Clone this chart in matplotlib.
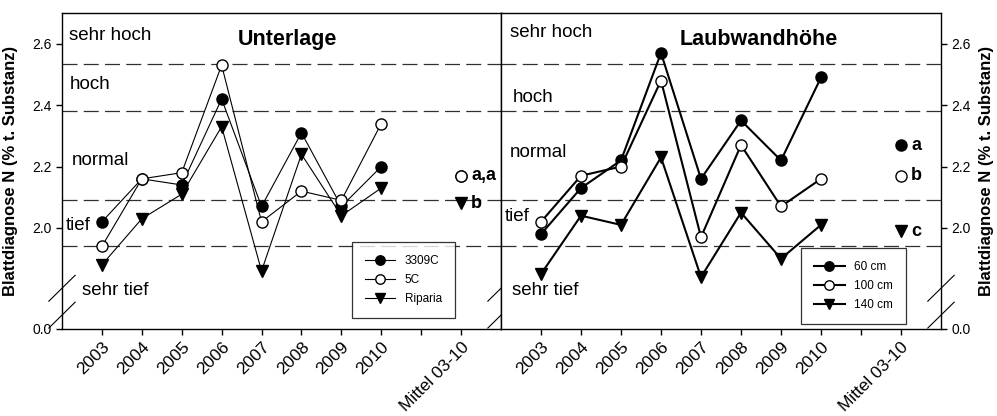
#!/usr/bin/env python3
"""Blattdiagnose N: Unterlage vs. Laubwandhoehe, 2003-2010."""
import matplotlib
matplotlib.use("Agg")
import matplotlib.pyplot as plt
import matplotlib.transforms as mtransforms
from matplotlib.lines import Line2D

plt.rcParams["font.family"] = ["Liberation Sans", "DejaVu Sans"]

YEARS = ["2003", "2004", "2005", "2006", "2007", "2008", "2009", "2010"]
MEAN_LABEL = "Mittel 03-10"
Y_LABEL = "Blattdiagnose N (% t. Substanz)"

# classification thresholds (dashed lines) and band names
THRESHOLDS = [1.94, 2.09, 2.38, 2.535]
BANDS = ["sehr tief", "tief", "normal", "hoch", "sehr hoch"]

# broken y axis: the bottom of the plot stands for 0.0
Y_BREAK = 1.671
Y_TOP = 2.70
Y_TICKS = [Y_BREAK, 2.0, 2.2, 2.4, 2.6]
Y_TICK_LABELS = ["0.0", "2.0", "2.2", "2.4", "2.6"]

# left panel: Unterlage
ROOT_TITLE = "Unterlage"
ROOT_NAMES = ["3309C", "5C", "Riparia"]
root_3309c = [2.02, 2.16, 2.14, 2.42, 2.07, 2.31, 2.07, 2.20]
root_5c = [1.94, 2.16, 2.18, 2.53, 2.02, 2.12, 2.09, 2.34]
root_riparia = [1.88, 2.03, 2.11, 2.33, 1.86, 2.24, 2.04, 2.13]
root_mean = [2.17, 2.17, 2.08]
root_letters = ["", "a,a", "b"]

# right panel: Laubwandhoehe
HEIGHT_TITLE = "Laubwandhöhe"
HEIGHT_NAMES = ["60 cm", "100 cm", "140 cm"]
height_60 = [1.98, 2.13, 2.22, 2.57, 2.16, 2.35, 2.22, 2.49]
height_100 = [2.02, 2.17, 2.20, 2.48, 1.97, 2.27, 2.07, 2.16]
height_140 = [1.85, 2.04, 2.01, 2.23, 1.84, 2.05, 1.90, 2.01]
height_mean = [2.27, 2.17, 1.99]
height_letters = ["a", "b", "c"]

MARKERS = [
    dict(marker="o", mfc="black", mec="black"),
    dict(marker="o", mfc="white", mec="black"),
    dict(marker="v", mfc="black", mec="black"),
]


def break_marks(ax, xs, color="black"):
    """Little diagonal slashes showing the axis break."""
    for x in xs:
        for y0 in (0.003, 0.088):
            ax.add_line(Line2D([x - 0.03, x + 0.03], [y0, y0 + 0.082],
                               transform=ax.transAxes, color=color,
                               lw=0.8, clip_on=False))


def panel(ax, title, names, series, means, letters, lw, band_pos, title_x):
    xpos = list(range(len(YEARS)))
    mean_x = len(YEARS) + 1

    for thr in THRESHOLDS:
        ax.axhline(thr, color="#303030", lw=0.9, dashes=(12, 5), zorder=1)

    for name, vals, mean, style in zip(names, series, means, MARKERS):
        ms = 8.5 if style["marker"] == "v" else 8
        ax.plot(xpos, vals, color="black", lw=lw, ms=ms, label=name,
                zorder=3, **style)
        ax.plot([mean_x], [mean], ls="none", ms=ms, zorder=3, **style)

    for mean, letter in zip(means, letters):
        if letter:
            ax.text(mean_x + 0.25, mean, letter, fontsize=13,
                    fontweight="bold", ha="left", va="center")

    for band, (bx, by) in zip(BANDS, band_pos):
        ax.text(bx, by, band, fontsize=13.5, ha="left", va="center")

    ax.text(title_x, 2.615, title, fontsize=15.5, fontweight="bold",
            ha="center", va="center")

    ax.set_xlim(-1, 10)
    ax.set_ylim(Y_BREAK, Y_TOP)
    ax.set_xticks(list(range(mean_x + 1)))
    ax.set_xticklabels(YEARS + ["", MEAN_LABEL], rotation=45, ha="right",
                       rotation_mode="anchor", fontsize=12.5)
    offset = mtransforms.ScaledTranslation(0.16, -0.03,
                                           ax.figure.dpi_scale_trans)
    for lab in ax.get_xticklabels():
        lab.set_transform(lab.get_transform() + offset)
    ax.set_yticks(Y_TICKS)
    ax.set_yticklabels(Y_TICK_LABELS)
    ax.tick_params(direction="out", length=4, width=1)
    ax.tick_params(axis="y", labelsize=10)
    for sp in ax.spines.values():
        sp.set_linewidth(1)

    leg = ax.legend(loc="lower left", fontsize=8.5, frameon=True,
                    fancybox=False, edgecolor="black", handlelength=2.6,
                    markerscale=0.85, borderpad=1.1, labelspacing=0.6,
                    borderaxespad=0)
    leg.get_frame().set_linewidth(0.9)
    return leg


fig = plt.figure(figsize=(9.97, 4.16), dpi=100)
ax_l = fig.add_axes([62 / 997, 87 / 416, 439 / 997, 316 / 416])
ax_r = fig.add_axes([501 / 997, 87 / 416, 440 / 997, 316 / 416])

leg_l = panel(ax_l, ROOT_TITLE, ROOT_NAMES,
              [root_3309c, root_5c, root_riparia], root_mean, root_letters,
              lw=0.8,
              band_pos=[(-0.5, 1.795), (-0.9, 2.007), (-0.75, 2.221),
                        (-0.8, 2.466), (-0.83, 2.628)],
              title_x=4.65)
leg_l.set_bbox_to_anchor((0.66, 0.035), transform=ax_l.transAxes)

leg_r = panel(ax_r, HEIGHT_TITLE, HEIGHT_NAMES,
              [height_60, height_100, height_140], height_mean, height_letters,
              lw=1.5,
              band_pos=[(-0.73, 1.795), (-0.9, 2.036), (-0.78, 2.247),
                        (-0.7, 2.426), (-0.78, 2.635)],
              title_x=5.45)
leg_r.set_bbox_to_anchor((0.682, 0.016), transform=ax_r.transAxes)

ax_r.yaxis.tick_right()
ax_r.yaxis.set_label_position("right")
ax_r.tick_params(axis="y", left=False, labelleft=False)

ax_l.set_ylabel(Y_LABEL, fontsize=12, fontweight="bold")
ax_l.yaxis.set_label_coords(-0.1, 0.5)
ax_r.set_ylabel(Y_LABEL, fontsize=12, fontweight="bold", rotation=90,
                va="center")
ax_r.yaxis.set_label_coords(1.103, 0.5)

break_marks(ax_l, [0.0, 1.0])
break_marks(ax_r, [1.0])

fig.savefig("out.png", dpi=100)
